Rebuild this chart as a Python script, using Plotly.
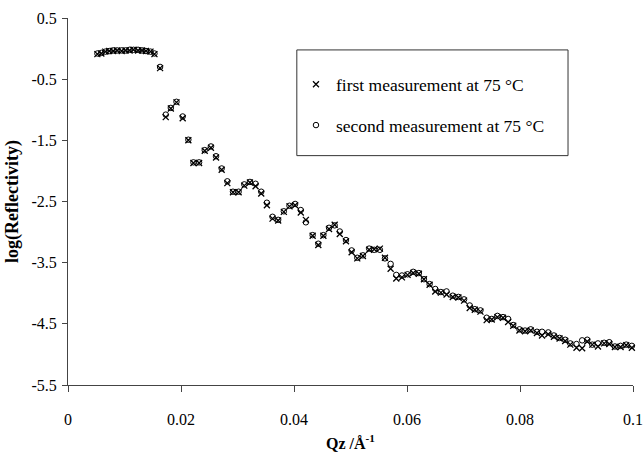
import plotly.graph_objects as go

# ---- data ----
q_plateau = [0.0052, 0.0059, 0.0066, 0.0073, 0.0080, 0.0087, 0.0095, 0.0102,
             0.0109, 0.0116, 0.0124, 0.0131, 0.0138, 0.0146, 0.0153]
q_main = [0.0163, 0.0173, 0.0182, 0.0192, 0.0203, 0.0213, 0.0222, 0.0232, 0.0242, 0.0253,
          0.0262, 0.0272, 0.0282, 0.0292, 0.0302, 0.0312, 0.0322, 0.0332, 0.0342, 0.0352,
          0.0362, 0.0372, 0.0382, 0.0392, 0.0402, 0.0412, 0.0421, 0.0433, 0.0443, 0.0452,
          0.0462, 0.0472, 0.0481, 0.0492, 0.0502, 0.0512, 0.0522, 0.0533, 0.0542, 0.0552,
          0.0561, 0.0571, 0.0581, 0.0591, 0.0601, 0.0611, 0.0621, 0.0630, 0.0640, 0.0650,
          0.0660, 0.0670, 0.0681, 0.0691, 0.0701, 0.0711, 0.0720, 0.0730, 0.0741, 0.0750,
          0.0760, 0.0770, 0.0779, 0.0788, 0.0799, 0.0809, 0.0819, 0.0830, 0.0839, 0.0850,
          0.0860, 0.0870, 0.0880, 0.0889, 0.0900, 0.0910, 0.0919, 0.0928, 0.0938, 0.0949,
          0.0958, 0.0968, 0.0978, 0.0988, 0.0998]

log_first_plateau = [-0.09, -0.08, -0.05, -0.04, -0.04, -0.03, -0.04, -0.03,
                     -0.03, -0.02, -0.03, -0.03, -0.04, -0.05, -0.09]
log_first_main = [-0.32, -1.12, -0.98, -0.88, -1.14, -1.50, -1.87, -1.87, -1.67, -1.62,
                  -1.78, -1.98, -2.20, -2.35, -2.35, -2.24, -2.19, -2.25, -2.37, -2.56,
                  -2.78, -2.81, -2.67, -2.58, -2.56, -2.68, -2.80, -3.06, -3.21, -3.06,
                  -2.95, -2.88, -3.03, -3.15, -3.33, -3.43, -3.39, -3.29, -3.28, -3.27,
                  -3.42, -3.60, -3.76, -3.74, -3.70, -3.67, -3.68, -3.77, -3.86, -3.97,
                  -3.99, -4.02, -4.06, -4.07, -4.12, -4.24, -4.27, -4.30, -4.44, -4.43,
                  -4.39, -4.40, -4.47, -4.53, -4.61, -4.62, -4.61, -4.65, -4.69, -4.67,
                  -4.71, -4.74, -4.78, -4.84, -4.89, -4.90, -4.79, -4.84, -4.87, -4.82,
                  -4.83, -4.88, -4.88, -4.85, -4.89]

log_second_plateau = [-0.08, -0.07, -0.05, -0.04, -0.03, -0.03, -0.03, -0.03,
                      -0.02, -0.02, -0.02, -0.03, -0.04, -0.05, -0.08]
log_second_main = [-0.30, -1.08, -0.97, -0.87, -1.11, -1.49, -1.86, -1.86, -1.66, -1.60,
                   -1.76, -1.96, -2.17, -2.34, -2.34, -2.22, -2.18, -2.21, -2.34, -2.52,
                   -2.75, -2.80, -2.66, -2.57, -2.54, -2.64, -2.84, -3.05, -3.19, -3.05,
                   -2.93, -2.89, -2.99, -3.13, -3.30, -3.42, -3.38, -3.27, -3.29, -3.29,
                   -3.43, -3.52, -3.70, -3.71, -3.69, -3.65, -3.67, -3.77, -3.85, -3.93,
                   -3.98, -3.97, -4.04, -4.06, -4.10, -4.20, -4.26, -4.28, -4.40, -4.42,
                   -4.37, -4.39, -4.42, -4.52, -4.59, -4.61, -4.59, -4.63, -4.63, -4.64,
                   -4.69, -4.73, -4.76, -4.82, -4.83, -4.77, -4.76, -4.84, -4.82, -4.81,
                   -4.80, -4.87, -4.86, -4.84, -4.86]

x_tickvals = [0, 0.02, 0.04, 0.06, 0.08, 0.1]
x_ticktext = ["0", "0.02", "0.04", "0.06", "0.08", "0.1"]
y_tickvals = [0.5, -0.5, -1.5, -2.5, -3.5, -4.5, -5.5]
y_ticktext = ["0.5", "-0.5", "-1.5", "-2.5", "-3.5", "-4.5", "-5.5"]

series_names = ["first measurement at 75 °C", "second measurement at 75 °C"]

q_all = q_plateau + q_main
log_first = log_first_plateau + log_first_main
log_second = log_second_plateau + log_second_main

FONT = "Liberation Serif, Times New Roman, serif"

fig = go.Figure()
fig.add_trace(go.Scatter(
    x=q_all, y=log_first, mode="markers", name=series_names[0],
    legendgroup="a", cliponaxis=False,
    marker=dict(symbol="x-thin-open", size=6, color="black",
                line=dict(color="black", width=1.3)),
))
fig.add_trace(go.Scatter(
    x=q_all, y=log_second, mode="markers", name=series_names[1],
    legendgroup="b", cliponaxis=False,
    marker=dict(symbol="circle-open", size=5.5, color="black",
                line=dict(color="black", width=1)),
))

fig.update_layout(
    width=643, height=460,
    margin=dict(l=68, r=10, t=18, b=75),
    paper_bgcolor="white", plot_bgcolor="white",
    font=dict(family=FONT, size=16, color="black"),
    showlegend=True,
    legend=dict(x=0.4035, y=0.868, xanchor="left", yanchor="top",
                bgcolor="rgba(0,0,0,0)", borderwidth=0,
                font=dict(family=FONT, size=17.5, color="black"),
                tracegroupgap=15),
    xaxis=dict(range=[0, 0.1], tickvals=x_tickvals, ticktext=x_ticktext,
               automargin=False,
               showgrid=False, zeroline=False, showline=True,
               linecolor="#444", linewidth=1, ticks="outside", ticklen=6,
               tickcolor="#444", ticklabelstandoff=14,
               title=dict(text="<b>Qz /Å<sup>-1</sup></b>", standoff=10,
                          font=dict(family=FONT, size=16))),
    yaxis=dict(range=[-5.5, 0.5], tickvals=y_tickvals, ticktext=y_ticktext,
               automargin=False,
               showgrid=False, zeroline=False, showline=True,
               linecolor="#444", linewidth=1, ticks="outside", ticklen=5,
               tickcolor="#444", ticklabelstandoff=2,
               title=dict(text="<b>log(Reflectivity)</b>", standoff=8,
                          font=dict(family=FONT, size=18))),
    shapes=[dict(type="rect", xref="paper", yref="paper",
                 x0=0.405, x1=0.885, y0=0.625, y1=0.913,
                 line=dict(color="#333", width=1), fillcolor="rgba(0,0,0,0)")],
)

fig.write_html("out.html")
